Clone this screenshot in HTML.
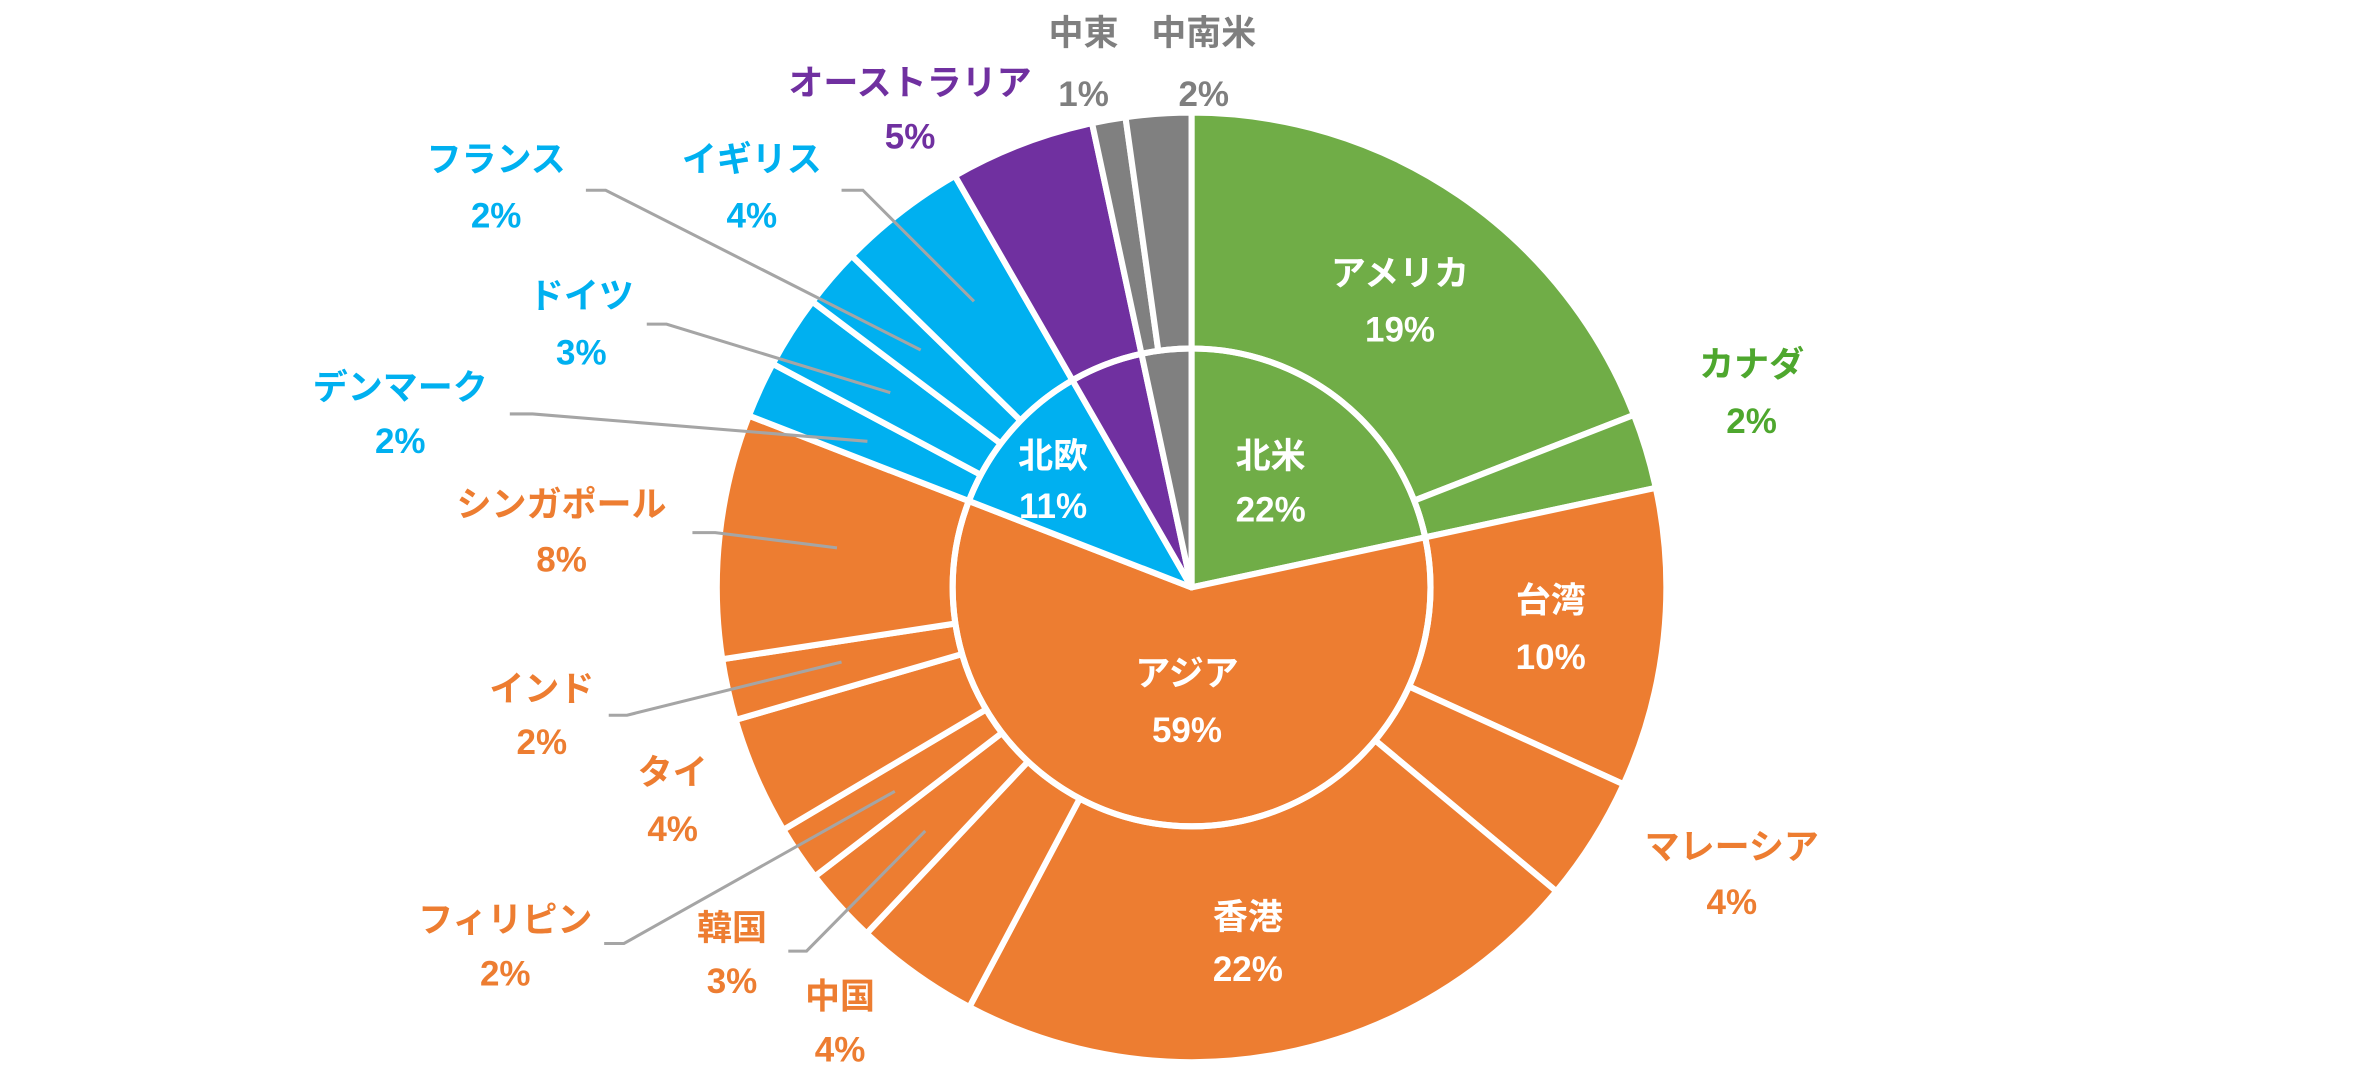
<!DOCTYPE html>
<html><head><meta charset="utf-8"><style>
html,body{margin:0;padding:0;background:#fff;}
svg{display:block;}
text{font-family:"Liberation Sans","Noto Sans CJK JP",sans-serif;font-weight:bold;font-size:23px;text-anchor:middle;dominant-baseline:central;}
.w{fill:#fff}.o{fill:#ED7D31}.b{fill:#00B0F0}.g{fill:#4EA72E}.p{fill:#7030A0}.k{fill:#7F7F7F}
</style></head><body>
<svg width="2374" height="1080" viewBox="0 0 1560 709.7" xmlns="http://www.w3.org/2000/svg">
<g id="outer"></g>
<g id="inner"></g>
<g fill="none" stroke="#A5A5A5" stroke-width="2">
<polyline points="553,125 567,125 640,198"/>
<polyline points="385,125 398,125 605,230"/>
<polyline points="425,213 438,213 585,258"/>
<polyline points="335,272 350,272 570,290"/>
<polyline points="455,350 470,350 550,360"/>
<polyline points="400,470 412,470 553,435"/>
<polyline points="397,620 410,620 588,520"/>
<polyline points="518,625 530,625 608,546"/>
</g>
<text class="k" x="712" y="22">中東</text><text class="k" x="712" y="62">1%</text>
<text class="k" x="791" y="22">中南米</text><text class="k" x="791" y="62">2%</text>
<text class="p" x="598" y="55">オーストラリア</text><text class="p" x="598" y="90">5%</text>
<text class="b" x="494" y="105">イギリス</text><text class="b" x="494" y="142">4%</text>
<text class="b" x="326" y="105">フランス</text><text class="b" x="326" y="142">2%</text>
<text class="b" x="382" y="195">ドイツ</text><text class="b" x="382" y="232">3%</text>
<text class="b" x="263" y="255">デンマーク</text><text class="b" x="263" y="290">2%</text>
<text class="o" x="369" y="332">シンガポール</text><text class="o" x="369" y="368">8%</text>
<text class="o" x="356" y="453">インド</text><text class="o" x="356" y="488">2%</text>
<text class="o" x="442" y="508">タイ</text><text class="o" x="442" y="545">4%</text>
<text class="o" x="332" y="605">フィリピン</text><text class="o" x="332" y="640">2%</text>
<text class="o" x="481" y="610">韓国</text><text class="o" x="481" y="645">3%</text>
<text class="o" x="552" y="655">中国</text><text class="o" x="552" y="690">4%</text>
<text class="g" x="1151" y="240">カナダ</text><text class="g" x="1151" y="277">2%</text>
<text class="o" x="1138" y="557">マレーシア</text><text class="o" x="1138" y="593">4%</text>
<text class="w" x="920" y="180">アメリカ</text><text class="w" x="920" y="217">19%</text>
<text class="w" x="1019" y="395">台湾</text><text class="w" x="1019" y="432">10%</text>
<text class="w" x="820" y="603">香港</text><text class="w" x="820" y="637">22%</text>
<text class="w" x="780" y="443">アジア</text><text class="w" x="780" y="480">59%</text>
<text class="w" x="835" y="300">北米</text><text class="w" x="835" y="335">22%</text>
<text class="w" x="692" y="300">北欧</text><text class="w" x="692" y="333">11%</text>
</svg>
<script>
var cx=783,cy=386,R=312,r=157;
function pt(a,rad){var t=a*Math.PI/180;return [cx+rad*Math.sin(t),cy-rad*Math.cos(t)];}
function wedge(a0,a1,rad,col){var p0=pt(a0,rad),p1=pt(a1,rad),l=(a1-a0)>180?1:0;
return '<path d="M'+cx+','+cy+' L'+p0[0]+','+p0[1]+' A'+rad+','+rad+' 0 '+l+' 1 '+p1[0]+','+p1[1]+' Z" fill="'+col+'" stroke="#fff" stroke-width="4" stroke-linejoin="round"/>';}
var G='#70AD47',O='#ED7D31',B='#00B0F0',P='#7030A0',K='#808080';
var ob=[0,68.7,77.9,114.5,129.8,207.9,223.2,232.5,239.3,253.8,261.3,291.2,298.1,307,314.3,330.1,347.9,352,360];
var oc=[G,G,O,O,O,O,O,O,O,O,O,B,B,B,B,P,K,K];
var s='';for(var i=0;i<oc.length;i++)s+=wedge(ob[i],ob[i+1],R,oc[i]);
document.getElementById('outer').innerHTML=s;
var ib=[0,77.9,291.2,330.1,347.9,360],ic=[G,O,B,P,K];s='';
for(i=0;i<ic.length;i++)s+=wedge(ib[i],ib[i+1],r,ic[i]);
s+='<circle cx="'+cx+'" cy="'+cy+'" r="'+r+'" fill="none" stroke="#fff" stroke-width="4"/>';
document.getElementById('inner').innerHTML=s;
</script>
</body></html>
